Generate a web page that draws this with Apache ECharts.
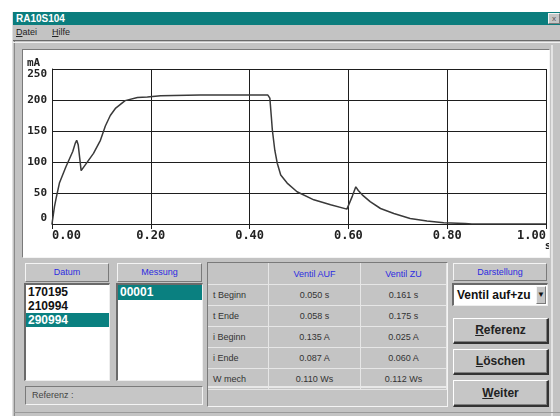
<!DOCTYPE html>
<html><head><meta charset="utf-8">
<script src="https://cdn.jsdelivr.net/npm/echarts@6/dist/echarts.min.js"></script>
<style>
html,body{margin:0;padding:0;width:560px;height:416px;overflow:hidden;background:#fff;font-family:"Liberation Sans",Arial,sans-serif;}
.a{position:absolute;box-sizing:border-box;}
.sunk{border-top:1px solid #7a7a7a;border-left:1px solid #7a7a7a;border-bottom:1px solid #f4f4f4;border-right:1px solid #f4f4f4;}
.raise{border-top:1px solid #f4f4f4;border-left:1px solid #f4f4f4;border-bottom:1px solid #7a7a7a;border-right:1px solid #7a7a7a;}
.hdr{color:#2c2ce0;font-size:9px;text-align:center;background:#c6c6c6;}
.list{background:#fff;border-top:2px solid #6a6a6a;border-left:2px solid #6a6a6a;border-bottom:1px solid #eee;border-right:1px solid #eee;}
.item{position:absolute;left:0;right:0;height:14px;line-height:14px;font-size:12px;font-weight:bold;color:#111;padding-left:2px;}
.sel{background:#0a8080;color:#fff;}
table{border-collapse:collapse;}
td{font-size:9px;color:#333;height:20px;padding:0;border-bottom:1px solid #e6e6e6;border-right:1px solid #e6e6e6;background:#c4c4c4;}
td.l{padding-left:5px;text-align:left;}
td.c{text-align:center;}
.btn{background:#c6c6c6;border-top:1px solid #fff;border-left:1px solid #fff;border-bottom:2px solid #333;border-right:2px solid #333;box-shadow:inset -1px -1px 0 #808080;font-size:12px;font-weight:bold;color:#222;text-align:center;}
</style></head>
<body>
<div class="a" style="left:12px;top:12px;width:548px;height:404px;background:#c3c3c3;border-left:1px solid #e0e0e0;"></div>
<div class="a" style="left:14px;top:14px;width:546px;height:402px;border-left:1px solid #8a8a8a;"></div>
<div class="a" style="left:13px;top:12px;width:547px;height:13px;background:#0b7d7d;color:#fff;font-weight:bold;font-size:10px;line-height:13px;padding-left:3px;">RA10S104</div>
<div class="a raise" style="left:548px;top:13px;width:12px;height:11px;background:#c6c6c6;font-size:8px;line-height:9px;text-align:center;color:#555;">x</div>
<div class="a" style="left:13px;top:25px;width:547px;height:16px;background:#c3c3c3;border-bottom:1px solid #6a6a6a;font-size:9px;line-height:15px;color:#222;">
  <span style="position:absolute;left:3px;"><u>D</u>atei</span><span style="position:absolute;left:39px;"><u>H</u>ilfe</span>
</div>
<div class="a" style="left:13px;top:42px;width:547px;height:1px;background:#f0f0f0;"></div>
<div class="a sunk" style="left:22px;top:49px;width:528px;height:209px;"></div>
<div id="chart" class="a" style="left:23px;top:50px;width:526px;height:207px;background:#fff;"></div>
<div class="a" style="left:551px;top:45px;width:2px;height:371px;background:#e4e4e4;"></div>

<!-- Datum -->
<div class="a raise hdr" style="left:25px;top:263px;width:84px;height:19px;line-height:17px;">Datum</div>
<div class="a list" style="left:24px;top:283px;width:86px;height:98px;">
  <div class="item" style="top:0px;">170195</div>
  <div class="item" style="top:14px;">210994</div>
  <div class="item sel" style="top:28px;">290994</div>
</div>
<!-- Messung -->
<div class="a raise hdr" style="left:117px;top:263px;width:85px;height:19px;line-height:17px;">Messung</div>
<div class="a list" style="left:116px;top:283px;width:87px;height:98px;">
  <div class="item sel" style="top:0px;height:15px;">00001</div>
</div>
<div class="a sunk" style="left:25px;top:386px;width:178px;height:19px;background:#c6c6c6;font-size:9px;line-height:17px;color:#444;padding-left:6px;">Referenz :</div>

<!-- Table -->
<div class="a sunk" style="left:207px;top:262px;width:241px;height:145px;background:#c4c4c4;"></div>
<table class="a" style="left:208px;top:263px;width:239px;">
  <tr><td class="l" style="width:55px;height:21px;"></td><td class="c" style="width:91px;color:#2c2ce0;">Ventil AUF</td><td class="c" style="color:#2c2ce0;">Ventil ZU</td></tr>
  <tr><td class="l">t Beginn</td><td class="c">0.050 s</td><td class="c">0.161 s</td></tr>
  <tr><td class="l">t Ende</td><td class="c">0.058 s</td><td class="c">0.175 s</td></tr>
  <tr><td class="l">i Beginn</td><td class="c">0.135 A</td><td class="c">0.025 A</td></tr>
  <tr><td class="l">i Ende</td><td class="c">0.087 A</td><td class="c">0.060 A</td></tr>
  <tr><td class="l">W mech</td><td class="c">0.110 Ws</td><td class="c">0.112 Ws</td></tr>
</table>
<div class="a" style="left:208px;top:386px;width:239px;height:2px;background:#e8e8e8;"></div>

<!-- Darstellung -->
<div class="a raise hdr" style="left:453px;top:263px;width:94px;height:18px;line-height:16px;">Darstellung</div>
<div class="a list" style="left:452px;top:283px;width:96px;height:23px;font-size:12px;font-weight:bold;line-height:20px;padding-left:3px;color:#111;">Ventil auf+zu
  <div class="a raise" style="left:82px;top:1px;width:10px;height:18px;background:#c6c6c6;font-size:8px;line-height:16px;text-align:center;">&#9660;</div>
</div>
<div class="a btn" style="left:453px;top:318px;width:96px;height:26px;line-height:23px;"><u>R</u>eferenz</div>
<div class="a btn" style="left:453px;top:349px;width:96px;height:26px;line-height:23px;"><u>L</u>öschen</div>
<div class="a btn" style="left:453px;top:380px;width:96px;height:27px;line-height:24px;"><u>W</u>eiter</div>
<div class="a" style="left:14px;top:412px;width:546px;height:1px;background:#9a9a9a;"></div>

<script>
const timeS = [0.000, 0.005, 0.009, 0.015, 0.028, 0.042, 0.047, 0.050, 0.053, 0.059, 0.067, 0.084, 0.098, 0.108, 0.118, 0.129, 0.148, 0.173, 0.193, 0.220, 0.300, 0.437, 0.441, 0.444, 0.446, 0.451, 0.456, 0.463, 0.476, 0.496, 0.530, 0.564, 0.597, 0.600, 0.608, 0.615, 0.620, 0.628, 0.644, 0.665, 0.692, 0.725, 0.759, 0.793, 0.836, 0.850, 1.000];
const currentMA = [0, 28, 44, 66, 92, 117, 130, 135, 128, 86, 95, 114, 135, 158, 175, 187, 199, 204, 205, 207, 208, 208, 203, 173, 152, 119, 98, 79, 66, 52, 39, 31, 24, 25, 45, 60, 54, 47, 36, 25, 17, 9, 5, 2, 1, 0, 0];
const xTicks = ['0.00', '0.20', '0.40', '0.60', '0.80', '1.00'];
const yTicks = [0, 50, 100, 150, 200, 250];

const chart = echarts.init(document.getElementById('chart'), null, {renderer: 'canvas'});
const axisCol = '#1e1e1e';
const lblFont = {fontFamily: 'DejaVu Sans Mono', fontWeight: 'bold', color: '#222'};
chart.setOption({
  animation: false,
  grid: {left: 29, right: 3, top: 19, bottom: 33, containLabel: false, outerBoundsMode: 'none'},
  xAxis: {
    type: 'value', min: 0, max: 1, interval: 0.2,
    axisLine: {show: true, onZero: false, lineStyle: {color: axisCol, width: 1}},
    axisTick: {show: true, length: 5, lineStyle: {color: axisCol, width: 1}},
    splitLine: {show: true, lineStyle: {color: axisCol, width: 1}},
    axisLabel: Object.assign({fontSize: 12, margin: 6, alignMinLabel: 'left', alignMaxLabel: 'right',
      formatter: v => xTicks[Math.round(v / 0.2)]}, lblFont)
  },
  yAxis: {
    type: 'value', min: 0, max: 250, interval: 50,
    axisLine: {show: true, lineStyle: {color: axisCol, width: 1}},
    axisTick: {show: false},
    splitLine: {show: true, lineStyle: {color: axisCol, width: 1}},
    axisLabel: Object.assign({fontSize: 11, margin: 5, verticalAlignMinLabel: 'bottom', verticalAlignMaxLabel: 'top',
      formatter: v => String(yTicks[Math.round(v / 50)])}, lblFont)
  },
  series: [{
    type: 'line', data: timeS.map((t, i) => [t, currentMA[i]]),
    showSymbol: false, smooth: false,
    lineStyle: {color: '#3a3a3a', width: 1.5}
  }],
  graphic: [
    {type: 'text', x: 4, y: 13, style: {text: 'mA', font: 'bold 11px "DejaVu Sans Mono"', fill: '#222', textVerticalAlign: 'middle'}},
    {type: 'text', x: 525, y: 196, style: {text: 's', font: 'bold 11px "DejaVu Sans Mono"', fill: '#222', textAlign: 'center', textVerticalAlign: 'middle'}}
  ]
});
</script>
</body></html>
